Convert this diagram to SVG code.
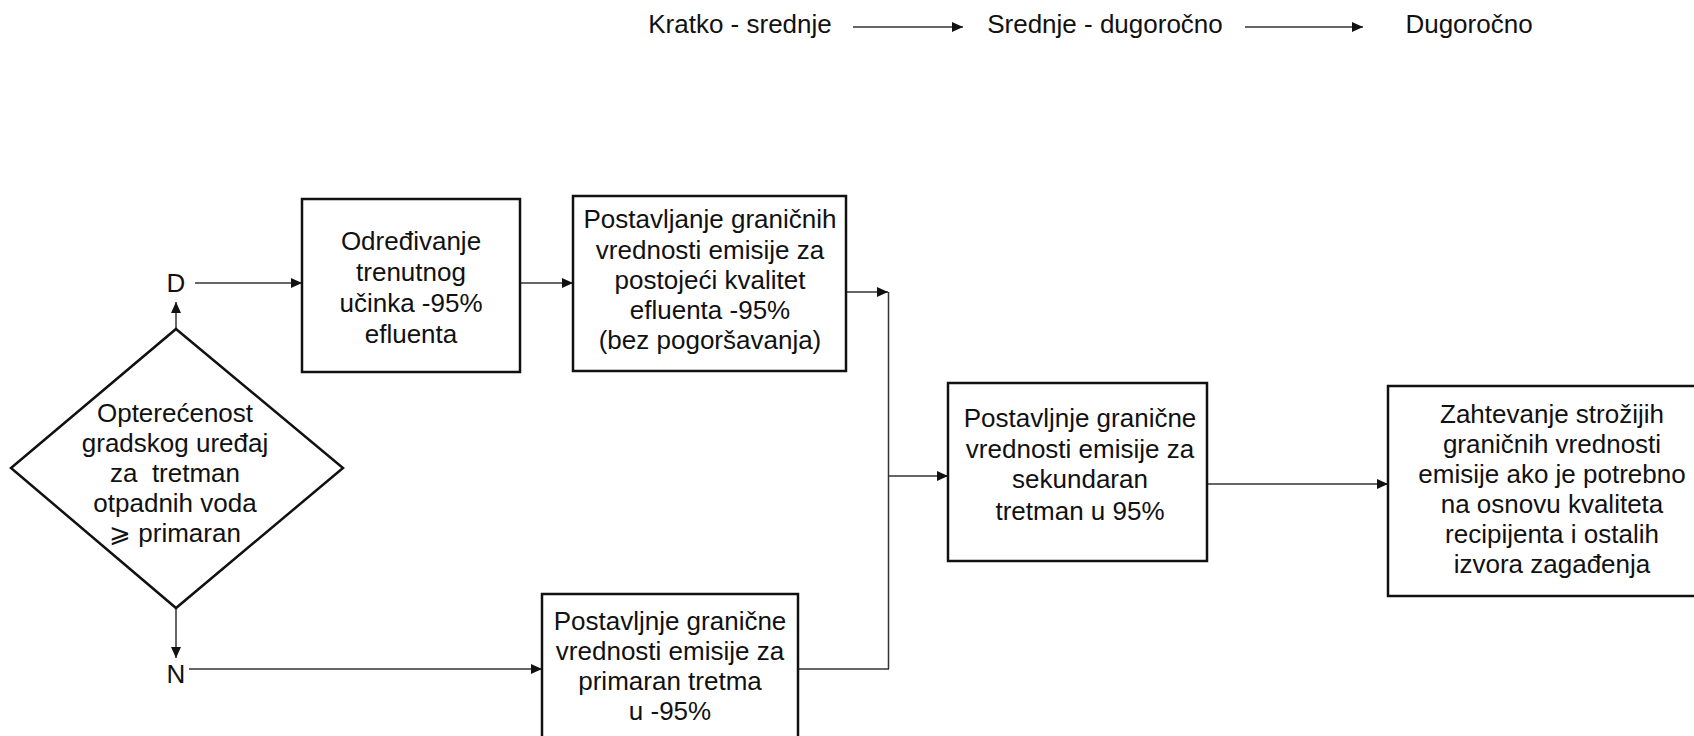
<svg xmlns="http://www.w3.org/2000/svg" width="1694" height="736" viewBox="0 0 1694 736">
<style>
text{font-family:"Liberation Sans",Arial,sans-serif;font-size:26px;fill:#111;text-anchor:middle;white-space:pre}
.box{fill:#fff;stroke:#111;stroke-width:2.5}
.c{fill:none;stroke:#333;stroke-width:1.5}
.a{marker-end:url(#ah)}
</style>
<defs>
<marker id="ah" markerUnits="userSpaceOnUse" markerWidth="12" markerHeight="10" refX="11" refY="5" orient="auto">
<path d="M0,0 L11,5 L0,10 z" fill="#111"/>
</marker>
</defs>
<rect width="1694" height="736" fill="#fff"/>
<g id="header">
<text x="740" y="33">Kratko - srednje</text>
<text x="1105" y="33">Srednje - dugoročno</text>
<text x="1469" y="33">Dugoročno</text>
</g>
<g id="connectors">
<line class="c a" x1="853" y1="27" x2="963" y2="27"/>
<line class="c a" x1="1245" y1="27" x2="1363" y2="27"/>
<line class="c a" x1="176" y1="329" x2="176" y2="302"/>
<line class="c a" x1="195" y1="283" x2="302" y2="283"/>
<line class="c a" x1="520" y1="283" x2="573" y2="283"/>
<line class="c a" x1="846" y1="292" x2="888" y2="292"/>
<line class="c" x1="888.5" y1="292" x2="888.5" y2="669"/>
<line class="c a" x1="888" y1="476" x2="948" y2="476"/>
<line class="c a" x1="176" y1="608" x2="176" y2="658"/>
<line class="c a" x1="189" y1="669" x2="542" y2="669"/>
<line class="c" x1="798" y1="669" x2="889" y2="669"/>
<line class="c a" x1="1207" y1="484" x2="1388" y2="484"/>
</g>
<g id="decision">
<polygon class="box" points="176,329 343,468 176,608 11,468"/>
<text x="175" y="422">Opterećenost</text>
<text x="175" y="452">gradskog uređaj</text>
<text x="175" y="482">za  tretman</text>
<text x="175" y="512">otpadnih voda</text>
<text x="175" y="542">⩾ primaran</text>
</g>
<g id="labelD"><text x="176" y="292">D</text></g>
<g id="labelN"><text x="176" y="683">N</text></g>
<g id="box1">
<rect class="box" x="302" y="199" width="218" height="173"/>
<text x="411" y="250">Određivanje</text>
<text x="411" y="281">trenutnog</text>
<text x="411" y="312">učinka -95%</text>
<text x="411" y="343">efluenta</text>
</g>
<g id="box2">
<rect class="box" x="573" y="196" width="273" height="175"/>
<text x="710" y="228">Postavljanje graničnih</text>
<text x="710" y="259">vrednosti emisije za</text>
<text x="710" y="289">postojeći kvalitet</text>
<text x="710" y="319">efluenta -95%</text>
<text x="710" y="349">(bez pogoršavanja)</text>
</g>
<g id="boxN">
<rect class="box" x="542" y="594" width="256" height="160"/>
<text x="670" y="630">Postavljnje granične</text>
<text x="670" y="660">vrednosti emisije za</text>
<text x="670" y="690">primaran tretma</text>
<text x="670" y="720">u -95%</text>
</g>
<g id="box3">
<rect class="box" x="948" y="383" width="259" height="178"/>
<text x="1080" y="427">Postavljnje granične</text>
<text x="1080" y="458">vrednosti emisije za</text>
<text x="1080" y="488">sekundaran</text>
<text x="1080" y="520">tretman u 95%</text>
</g>
<g id="box4">
<rect class="box" x="1388" y="386" width="340" height="210"/>
<text x="1552" y="423">Zahtevanje strožijih</text>
<text x="1552" y="453">graničnih vrednosti</text>
<text x="1552" y="483">emisije ako je potrebno</text>
<text x="1552" y="513">na osnovu kvaliteta</text>
<text x="1552" y="543">recipijenta i ostalih</text>
<text x="1552" y="573">izvora zagađenja</text>
</g>
</svg>
